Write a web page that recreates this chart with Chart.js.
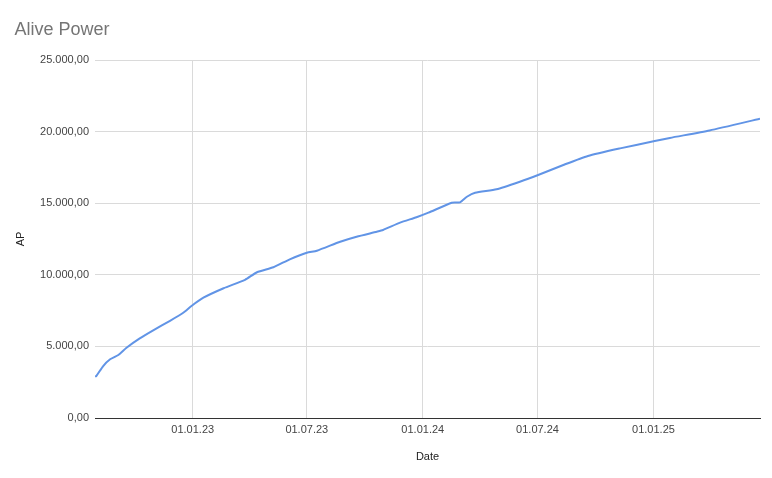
<!DOCTYPE html>
<html>
<head>
<meta charset="utf-8">
<script src="https://cdn.jsdelivr.net/npm/chart.js@4.4.1/dist/chart.umd.min.js"></script>
<style>
  html, body { margin: 0; padding: 0; background: #fff; }
  #wrap { width: 772px; height: 478px; }
</style>
</head>
<body>
<div id="wrap"><canvas id="myChart" width="772" height="478"></canvas></div>
<script>
// Data
const dates = [
  '2022-07-30', '2022-08-01', '2022-08-12', '2022-08-23', '2022-09-05', '2022-09-18',
  '2022-10-09', '2022-10-31', '2022-11-26', '2022-12-17', '2022-12-30', '2023-01-18',
  '2023-02-19', '2023-03-25', '2023-04-13', '2023-05-09', '2023-06-04', '2023-07-01',
  '2023-07-17', '2023-08-23', '2023-09-18', '2023-10-20', '2023-10-30', '2023-11-26',
  '2023-12-22', '2024-01-10', '2024-02-16', '2024-02-29', '2024-03-11', '2024-03-24',
  '2024-04-27', '2024-06-03', '2024-07-02', '2024-08-11', '2024-09-19', '2024-11-09',
  '2025-01-03', '2025-01-27', '2025-03-31', '2025-06-19'
];
const apValues = [
  2900, 2930, 3630, 4100, 4400, 4910,
  5560, 6140, 6790, 7350, 7820, 8400,
  9060, 9650, 10180, 10530, 11080, 11540,
  11680, 12310, 12660, 13010, 13130, 13640,
  14020, 14340, 15030, 15060, 15450, 15730,
  15970, 16500, 16970, 17670, 18300, 18830,
  19340, 19560, 20080, 20900
];
const tickDates = ['2023-01-01', '2023-07-01', '2024-01-01', '2024-07-01', '2025-01-01'];
const tickLabels = ['01.01.23', '01.07.23', '01.01.24', '01.07.24', '01.01.25'];

const DAY = 86400000;
const dayNum = s => Date.parse(s) / DAY;

// German number format, e.g. 25.000,00
function fmt(v) {
  const parts = Math.round(v).toString().replace(/\B(?=(\d{3})+(?!\d))/g, '.');
  return parts + ',00';
}

const titlePlugin = {
  id: 'sheetTitle',
  afterDraw(chart) {
    const ctx = chart.ctx;
    ctx.save();
    ctx.font = '18px "Liberation Sans", Arial, sans-serif';
    ctx.fillStyle = '#757575';
    ctx.textBaseline = 'alphabetic';
    ctx.textAlign = 'left';
    ctx.fillText('Alive Power', 14.5, 35);
    ctx.restore();
  }
};

const font = { family: '"Liberation Sans", Arial, sans-serif', size: 11 };

var ctx = document.getElementById('myChart').getContext('2d');
var myChart = new Chart(ctx, {
  type: 'line',
  data: {
    datasets: [{
      label: 'AP',
      data: dates.map((d, i) => ({ x: dayNum(d), y: apValues[i] })),
      borderColor: '#6194e6',
      borderWidth: 2,
      pointRadius: 0,
      tension: 0.2,
      fill: false
    }]
  },
  options: {
    responsive: false,
    animation: false,
    layout: { padding: { left: 14, right: 12, top: 60, bottom: 0 } },
    plugins: {
      legend: { display: false },
      tooltip: { enabled: false }
    },
    scales: {
      x: {
        type: 'linear',
        min: dayNum(dates[0]),
        max: dayNum(dates[dates.length - 1]),
        afterBuildTicks: axis => {
          axis.ticks = tickDates.map(d => ({ value: dayNum(d) }));
        },
        afterFit: axis => { axis.height = 60; },
        ticks: {
          autoSkip: false,
          maxRotation: 0,
          padding: 5,
          color: '#444',
          font: font,
          callback: (v, i) => tickLabels[i]
        },
        grid: { color: '#dadada', drawTicks: false },
        border: { color: '#333', width: 1 },
        title: {
          display: true,
          text: 'Date',
          color: '#222',
          font: font,
          padding: { top: 14, bottom: 14 }
        }
      },
      y: {
        min: 0,
        max: 25000,
        afterFit: axis => { axis.width = 81; },
        ticks: {
          stepSize: 5000,
          padding: 6,
          color: '#444',
          font: font,
          callback: v => fmt(v)
        },
        grid: {
          color: c => (c.tick && c.tick.value === 0) ? '#333' : '#dadada',
          drawTicks: false
        },
        border: { display: false },
        title: {
          display: true,
          text: 'AP',
          color: '#222',
          font: font,
          padding: { top: 0, bottom: 0 }
        }
      }
    }
  },
  plugins: [titlePlugin]
});
</script>
</body>
</html>
